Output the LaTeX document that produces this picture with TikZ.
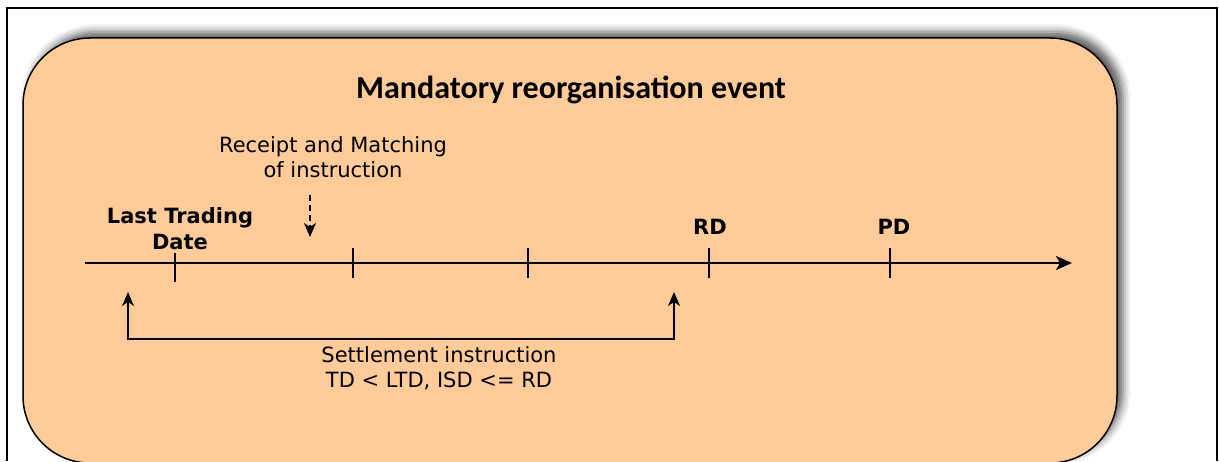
\documentclass[tikz,border=0pt]{standalone}
\usepackage{fontspec}
\setmainfont{DejaVu Sans}
\newfontfamily\titlefont{Carlito}
\usetikzlibrary{arrows.meta,shadows.blur}
\definecolor{peach}{HTML}{FFCC99}

\begin{document}
\begin{tikzpicture}[x=1pt,y=1pt,>={Stealth[length=14pt,width=12pt,inset=4pt,fill=black]},line width=1.5pt,
    date node/.style={font=\bfseries\fontsize{21}{26}\selectfont,align=center},
    note node/.style={font=\fontsize{21}{25}\selectfont,align=center},
    tick mark/.style={line width=1.5pt}]

            \useasboundingbox (0,0) rectangle (1219,461);
            \draw[line width=2pt] (7,0) -- (7,452.5) -- (1217,452.5) -- (1217,0);

            \draw[fill=peach, rounded corners=67pt,
                blur shadow={shadow xshift=6pt, shadow yshift=6pt, shadow blur radius=8pt, shadow opacity=65}]
                (23,-2) rectangle (1117,423);

            \node[font=\titlefont\bfseries\fontsize{32}{38}\selectfont] (title) at (571,371) {Mandatory reorganisation event};

            % time line
            \coordinate (start) at (85,198);
            \coordinate (end) at (1072,198);
            \draw[line width=2pt,->,>={Stealth[length=16pt,width=14pt,inset=4pt,fill=black]}] (start) -- (end);

            \coordinate (ltd) at (175,198);
            \coordinate (t2) at (353,198);
            \coordinate (t3) at (528,198);
            \coordinate (rd) at (709,198);
            \coordinate (pd) at (890,198);
            \draw[tick mark] ([yshift=-19pt]ltd) -- ([yshift=10pt]ltd);
            \foreach \t in {t2,t3,rd,pd}
                \draw[tick mark] ([yshift=-15pt]\t) -- ([yshift=15pt]\t);

            \node[date node] (ltdlabel) at (180,232) {Last Trading\\Date};
            \node[date node] (rdlabel) at (710,234) {RD};
            \node[date node] (pdlabel) at (894,234) {PD};

            \node[note node] (receipt) at (333,304) {Receipt and Matching\\of instruction};
            \coordinate (rtop) at (310,266);
            \coordinate (rtip) at (310,224);
            \draw[->,dash pattern=on 6pt off 4pt] (rtop) -- (rtip);

            % settlement bracket
            \coordinate (lup) at (128,169);
            \coordinate (rup) at (674,169);
            \draw[<->] (lup) -- (128,122) -- (674,122) -- (rup);
            \node[note node] (settle) at (439,93) {Settlement instruction\\TD < LTD, ISD <= RD};
        \end{tikzpicture}
\end{document}
